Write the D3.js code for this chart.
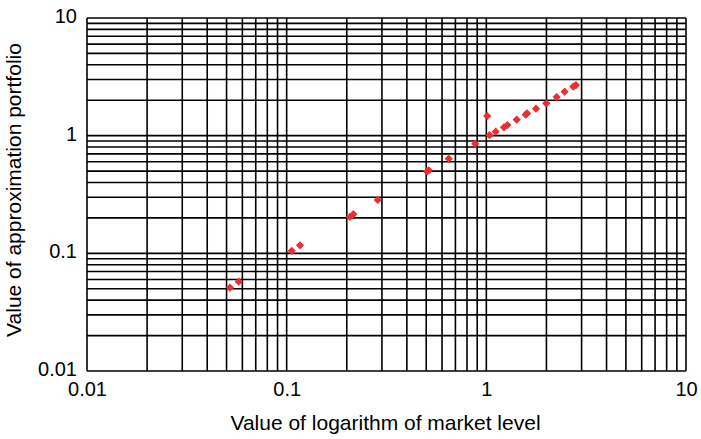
<!DOCTYPE html>
<html>
<head>
<meta charset="utf-8">
<script src="https://cdn.jsdelivr.net/npm/d3@7"></script>
<style>
  html, body { margin: 0; padding: 0; background: #fff; }
  svg { display: block; }
  text { font-family: "Liberation Sans", Arial, Helvetica, sans-serif; fill: #000; }
</style>
</head>
<body>
<svg id="chart" width="701" height="439"></svg>
<script>
// Market level (x) and approximation portfolio value (y)
const marketLevel = [0.052, 0.0575, 0.106, 0.1166, 0.2075, 0.2157, 0.286,
  0.505, 0.515, 0.648, 0.88, 1.01, 1.037, 1.114, 1.225, 1.274, 1.419,
  1.574, 1.60, 1.773, 1.996, 2.25, 2.467, 2.726, 2.81];
const portfolioValue = [0.0511, 0.0574, 0.105, 0.117, 0.204, 0.215, 0.284,
  0.497, 0.508, 0.637, 0.855, 1.47, 1.009, 1.08, 1.178, 1.232, 1.367,
  1.507, 1.55, 1.695, 1.884, 2.13, 2.364, 2.607, 2.695];

const tickValues = [0.01, 0.1, 1, 10];
const tickLabels = ["0.01", "0.1", "1", "10"];
const xTitle = "Value of logarithm of market level";
const yTitle = "Value of approximation portfolio";

const svg = d3.select("#chart");
const margin = { left: 87, right: 15, top: 18, bottom: 68 };
const W = 701, H = 439;

const x = d3.scaleLog().domain([0.01, 10]).range([margin.left, W - margin.right]);
const y = d3.scaleLog().domain([0.01, 10]).range([H - margin.bottom, margin.top]);

// Grid at 1..9 of every decade
const gridVals = [];
for (let e = -2; e <= 0; e++) {
  for (let m = 1; m <= 9; m++) gridVals.push(m * Math.pow(10, e));
}
gridVals.push(10);

const grid = svg.append("g").attr("stroke", "#000").attr("stroke-width", 1.6);
grid.selectAll("line.v").data(gridVals).join("line")
  .attr("class", "v")
  .attr("x1", d => x(d)).attr("x2", d => x(d))
  .attr("y1", y(10)).attr("y2", y(0.01));
grid.selectAll("line.h").data(gridVals).join("line")
  .attr("class", "h")
  .attr("y1", d => y(d)).attr("y2", d => y(d))
  .attr("x1", x(0.01)).attr("x2", x(10));

// Tick labels
const xAxis = d3.axisBottom(x).tickValues(tickValues)
  .tickFormat((d, i) => tickLabels[i]).tickSize(0).tickPadding(11);
const gx = svg.append("g").attr("transform", `translate(0,${y(0.01)})`).call(xAxis);
gx.select(".domain").remove();
gx.selectAll("text").attr("font-size", 20).attr("font-family", "Liberation Sans, Arial, sans-serif").attr("fill", "#000");

const yAxis = d3.axisLeft(y).tickValues(tickValues)
  .tickFormat((d, i) => tickLabels[i]).tickSize(0).tickPadding(10);
const gy = svg.append("g").attr("transform", `translate(${x(0.01)},0)`).call(yAxis);
gy.select(".domain").remove();
gy.selectAll("text").attr("font-size", 20).attr("font-family", "Liberation Sans, Arial, sans-serif").attr("fill", "#000")
  .attr("dy", "0.22em");

// Axis titles
svg.append("text")
  .attr("x", (x(0.01) + x(10)) / 2 - 1).attr("y", 430)
  .attr("text-anchor", "middle").attr("font-size", 21)
  .text(xTitle);
svg.append("text")
  .attr("transform", `translate(21,190) rotate(-90)`)
  .attr("text-anchor", "middle").attr("font-size", 21)
  .text(yTitle);

// Data points
const pts = marketLevel.map((v, i) => ({ x: v, y: portfolioValue[i] }));
const sym = d3.symbol().type(d3.symbolSquare).size(34);
svg.append("g").selectAll("path").data(pts).join("path")
  .attr("d", sym)
  .attr("transform", d => `translate(${x(d.x)},${y(d.y)}) rotate(45)`)
  .attr("fill", "#ee2d32");
</script>
</body>
</html>
